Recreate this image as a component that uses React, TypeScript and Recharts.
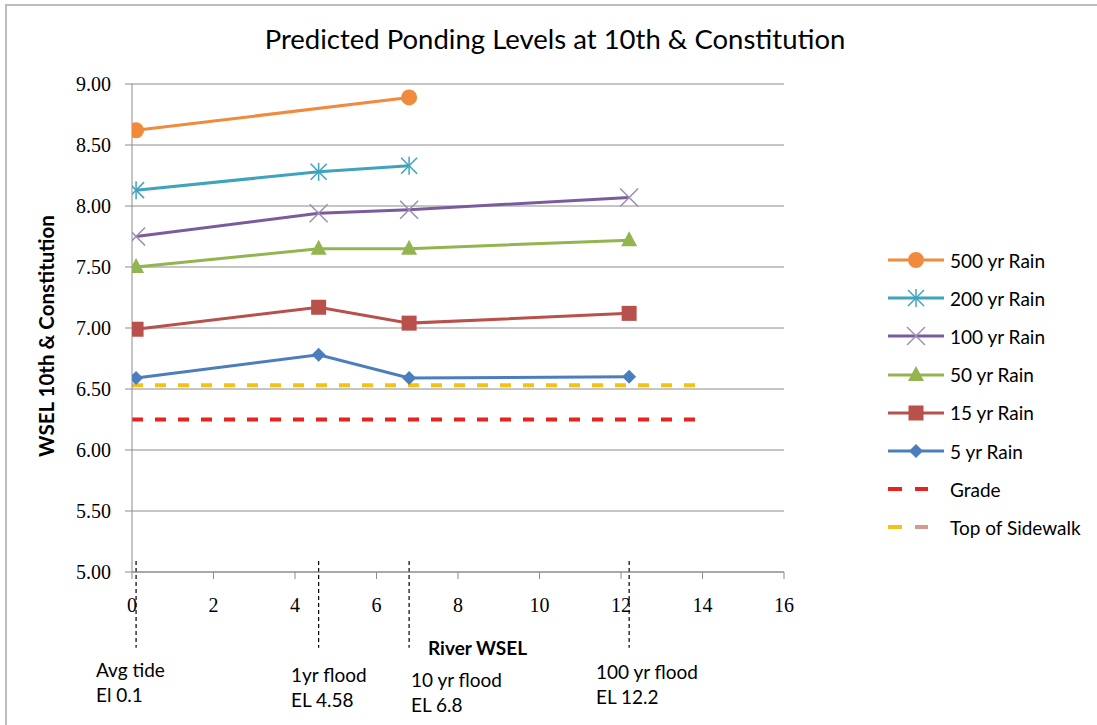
import React from "react";
import {
  CartesianGrid,
  Line,
  LineChart,
  ReferenceLine,
  XAxis,
  YAxis,
} from "recharts";

// River water surface elevations (x positions of the runs)
const riverWsel = [0.1, 4.58, 6.8, 12.2];
const riverLabels = [
  ["Avg tide", "El 0.1"],
  ["1yr flood", "EL 4.58"],
  ["10 yr flood", "EL 6.8"],
  ["100 yr flood", "EL 12.2"],
];

// predicted ponding WSEL for each rain event
const rain500 = [8.62, 8.89];
const rain200 = [8.13, 8.28, 8.33];
const rain100 = [7.75, 7.94, 7.97, 8.07];
const rain50 = [7.5, 7.65, 7.65, 7.72];
const rain15 = [6.99, 7.17, 7.04, 7.12];
const rain5 = [6.59, 6.78, 6.59, 6.6];

// reference elevations drawn across the plot
const refX = [0, 14.05];
const gradeEl = 6.25;
const sidewalkEl = 6.53;

const xTicks = [0, 2, 4, 6, 8, 10, 12, 14, 16];
const yTicks = [5, 5.5, 6, 6.5, 7, 7.5, 8, 8.5, 9];

const FONT = "Lato, 'Noto Sans', sans-serif";
const TICK_FONT = "'Liberation Serif', serif";

const pts = (xs: number[], ys: number[]) => ys.map((y, i) => ({ x: xs[i], y }));

// marker shapes
const Circle = (color: string) => (p: any) =>
  p.cx == null ? null : <circle key={p.key} cx={p.cx} cy={p.cy} r={8} fill={color} />;
const Star = (color: string) => (p: any) =>
  p.cx == null ? null : (
    <g key={p.key} stroke={color} strokeWidth={1.5}>
      <line x1={p.cx - 8} y1={p.cy - 8} x2={p.cx + 8} y2={p.cy + 8} />
      <line x1={p.cx - 8} y1={p.cy + 8} x2={p.cx + 8} y2={p.cy - 8} />
      <line x1={p.cx} y1={p.cy - 9} x2={p.cx} y2={p.cy + 9} />
    </g>
  );
const Cross = (color: string) => (p: any) =>
  p.cx == null ? null : (
    <g key={p.key} stroke={color} strokeWidth={1.5}>
      <line x1={p.cx - 9} y1={p.cy - 9} x2={p.cx + 9} y2={p.cy + 9} />
      <line x1={p.cx - 9} y1={p.cy + 9} x2={p.cx + 9} y2={p.cy - 9} />
    </g>
  );
const Triangle = (color: string) => (p: any) =>
  p.cx == null ? null : (
    <polygon
      key={p.key}
      points={`${p.cx},${p.cy - 9} ${p.cx + 8},${p.cy + 6} ${p.cx - 8},${p.cy + 6}`}
      fill={color}
    />
  );
const Square = (color: string) => (p: any) =>
  p.cx == null ? null : (
    <rect key={p.key} x={p.cx - 7.5} y={p.cy - 7.5} width={15} height={15} fill={color} />
  );
const Diamond = (color: string) => (p: any) =>
  p.cx == null ? null : (
    <polygon
      key={p.key}
      points={`${p.cx},${p.cy - 7} ${p.cx + 7},${p.cy} ${p.cx},${p.cy + 7} ${p.cx - 7},${p.cy}`}
      fill={color}
    />
  );

const series = [
  { name: "500 yr Rain", data: pts([0.1, 6.8], rain500), color: "#F08A3C", dot: Circle, mark: "#F08A3C" },
  { name: "200 yr Rain", data: pts(riverWsel, rain200), color: "#3FA3BD", dot: Star, mark: "#3FA3BD" },
  { name: "100 yr Rain", data: pts(riverWsel, rain100), color: "#7A5C9E", dot: Cross, mark: "#9B8DB0" },
  { name: "50 yr Rain", data: pts(riverWsel, rain50), color: "#93B550", dot: Triangle, mark: "#93B550" },
  { name: "15 yr Rain", data: pts(riverWsel, rain15), color: "#B8504C", dot: Square, mark: "#B8504C" },
  { name: "5 yr Rain", data: pts(riverWsel, rain5), color: "#4C7EBD", dot: Diamond, mark: "#4C7EBD" },
];

const GRADE = "#E8231E";
const SIDEWALK = "#F3C218";

function LegendBox() {
  const rows = [
    ...series.map((s) => ({ name: s.name, color: s.color, dot: s.dot(s.mark), dash: null as null | string })),
    { name: "Grade", color: GRADE, dot: null, dash: GRADE },
    { name: "Top of Sidewalk", color: SIDEWALK, dot: null, dash: "#D89A8E" },
  ];
  return (
    <div style={{ fontFamily: FONT, fontSize: 19, color: "#000" }}>
      {rows.map((r) => (
        <div key={r.name} style={{ height: 38.2, display: "flex", alignItems: "center" }}>
          <svg width={62} height={24} style={{ flex: "none" }}>
            {r.dash ? (
              <>
                <line x1={0} y1={12} x2={14} y2={12} stroke={r.color} strokeWidth={4} />
                <line x1={27} y1={12} x2={40} y2={12} stroke={r.dash} strokeWidth={4} />
              </>
            ) : (
              <>
                <line x1={0} y1={12} x2={56} y2={12} stroke={r.color} strokeWidth={3} />
                {r.dot && r.dot({ cx: 28, cy: 12, key: "m" })}
              </>
            )}
          </svg>
          <span>{r.name}</span>
        </div>
      ))}
    </div>
  );
}

const abs = (left: number, top: number, extra: React.CSSProperties = {}): React.CSSProperties => ({
  position: "absolute",
  left,
  top,
  fontFamily: FONT,
  fontSize: 19,
  lineHeight: "25px",
  color: "#000",
  whiteSpace: "nowrap",
  ...extra,
});

const labelPos = [
  [96, 657],
  [291, 662],
  [411, 667],
  [596, 659],
];

export default function App() {
  return (
    <div
      style={{
        position: "absolute",
        left: 0,
        top: 0,
        width: 1097,
        height: 725,
        overflow: "hidden",
        background: "#fff",
      }}
    >
      <div
        style={{
          position: "absolute",
          left: 5,
          top: 4,
          width: 1200,
          height: 900,
          border: "2px solid #BDBDBD",
        }}
      />
      <div style={abs(0, 22, { width: 1110, textAlign: "center", fontSize: 27.5, lineHeight: "34px" })}>
        Predicted Ponding Levels at 10th &amp; Constitution
      </div>
      <div
        style={abs(46, 336, {
          fontWeight: 700,
          fontSize: 20.5,
          transform: "translate(-50%, -50%) rotate(-90deg)",
        })}
      >
        WSEL 10th &amp; Constitution
      </div>

      <LineChart
        width={1097}
        height={725}
        margin={{ top: 84, right: 313, bottom: 0, left: 0 }}
        style={{ position: "absolute", left: 0, top: 0 }}
      >
        <CartesianGrid vertical={false} stroke="#8C8C8C" />
        <XAxis
          dataKey="x"
          type="number"
          domain={[0, 16]}
          ticks={xTicks}
          allowDataOverflow
          height={153}
          stroke="#8C8C8C"
          tickSize={7}
          tickMargin={19}
          tick={{ fill: "#000", fontFamily: TICK_FONT, fontSize: 20 }}
        />
        <YAxis
          type="number"
          domain={[5, 9]}
          ticks={yTicks}
          width={132}
          stroke="#8C8C8C"
          tickSize={7}
          tickMargin={14}
          tickFormatter={(v: number) => v.toFixed(2)}
          tick={{ fill: "#000", fontFamily: TICK_FONT, fontSize: 20 }}
        />
        {riverWsel.map((v) => (
          <ReferenceLine
            key={v}
            segment={[
              { x: v, y: 5.09 },
              { x: v, y: 4.38 },
            ]}
            ifOverflow="visible"
            stroke="#000"
            strokeWidth={1.2}
            strokeDasharray="4 3"
          />
        ))}
        <Line
          data={pts(refX, [gradeEl, gradeEl])}
          dataKey="y"
          name="Grade"
          stroke={GRADE}
          strokeWidth={4}
          strokeDasharray="11 12"
          dot={false}
          isAnimationActive={false}
        />
        <Line
          data={pts(refX, [sidewalkEl, sidewalkEl])}
          dataKey="y"
          name="Top of Sidewalk"
          stroke={SIDEWALK}
          strokeWidth={4}
          strokeDasharray="11 12"
          dot={false}
          isAnimationActive={false}
        />
        {series.map((s) => (
          <Line
            key={s.name}
            data={s.data}
            dataKey="y"
            name={s.name}
            stroke={s.color}
            strokeWidth={3}
            dot={s.dot(s.mark)}
            activeDot={false}
            isAnimationActive={false}
          />
        ))}
      </LineChart>

      <div style={{ position: "absolute", left: 888, top: 241 }}>
        <LegendBox />
      </div>

      {riverLabels.map((lines, i) => (
        <div key={lines[0]} style={abs(labelPos[i][0], labelPos[i][1])}>
          {lines[0]}
          <br />
          {lines[1]}
        </div>
      ))}
      <div style={abs(428, 635, { fontWeight: 700 })}>River WSEL</div>
    </div>
  );
}
